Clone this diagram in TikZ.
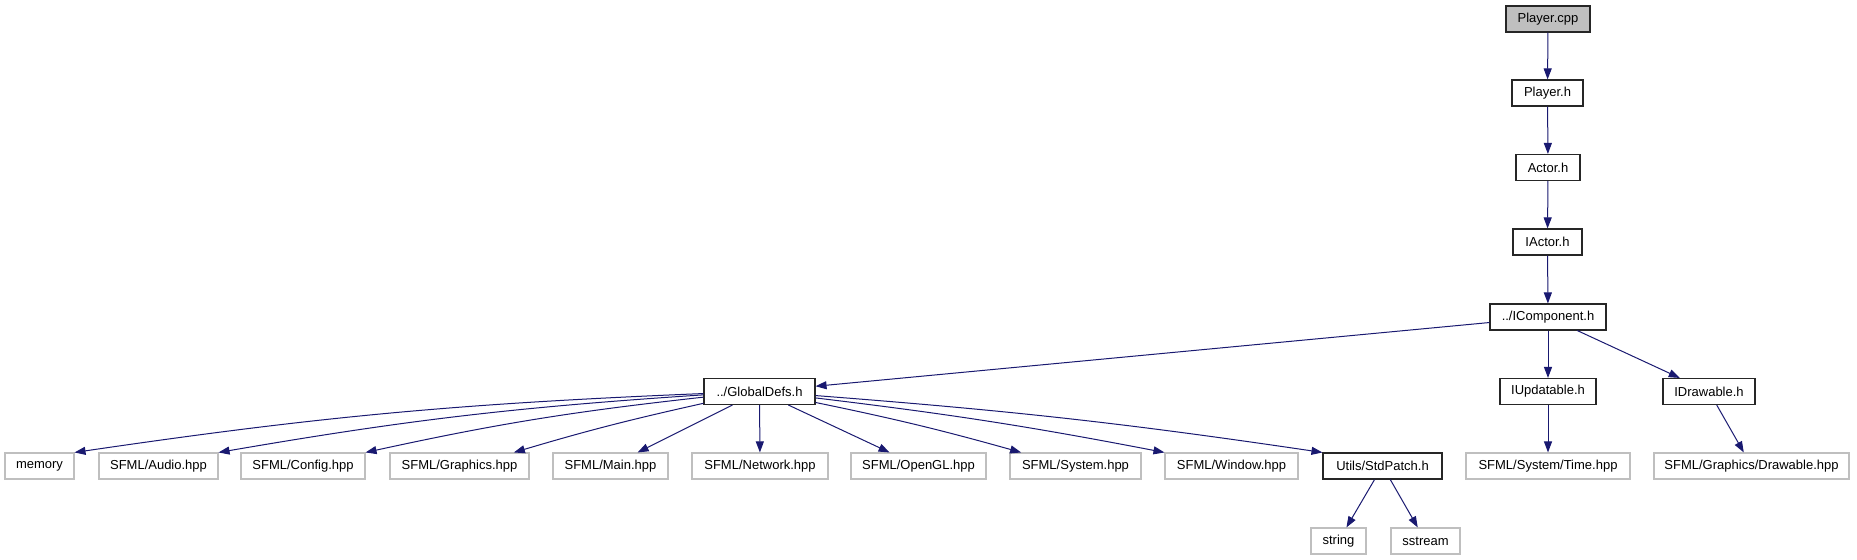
\documentclass[tikz,border=0pt]{standalone}
\usepackage{fontspec}
\setmainfont{Liberation Sans}
\usetikzlibrary{arrows.meta}
\definecolor{edgeblue}{HTML}{191970}
\definecolor{grey75}{HTML}{BFBFBF}
\begin{document}
\begin{tikzpicture}[x=1bp,y=-1bp,
  base/.style={draw, line width=1.1bp, minimum height=26bp, inner sep=0pt, font=\fontsize{13bp}{15bp}\selectfont, text=black},
  filebox/.style={base, draw=black!85},
  rootbox/.style={base, draw=black!85, fill=grey75},
  extbox/.style={base, draw=grey75},
  dep/.style={draw=edgeblue, line width=1bp, -{Triangle[length=11bp,width=8bp]}, fill=none}
]
\useasboundingbox (0,0) rectangle (1857,560);
% top chain
\node[rootbox, minimum width=84bp] (pcpp) at (1548,19) {Player.cpp};
\node[filebox, minimum width=71bp] (ph) at (1547.5,93) {Player.h};
\node[filebox, minimum width=64bp] (ah) at (1548,167.5) {Actor.h};
\node[filebox, minimum width=69bp] (iah) at (1547.5,242) {IActor.h};
\node[filebox, minimum width=116bp] (ic) at (1548,317) {../IComponent.h};
% middle row
\node[filebox, minimum width=111bp] (gd) at (759.5,391.5) {../GlobalDefs.h};
\node[filebox, minimum width=96bp] (iu) at (1548,391.5) {IUpdatable.h};
\node[filebox, minimum width=92bp] (idr) at (1709,391.5) {IDrawable.h};
% bottom row
\node[extbox, minimum width=69bp] (mem) at (39.5,466) {memory};
\node[extbox, minimum width=119bp] (aud) at (158.5,466) {SFML/Audio.hpp};
\node[extbox, minimum width=124bp] (cfg) at (303,466) {SFML/Config.hpp};
\node[extbox, minimum width=139bp] (gfx) at (459.5,466) {SFML/Graphics.hpp};
\node[extbox, minimum width=115bp] (mainh) at (610.5,466) {SFML/Main.hpp};
\node[extbox, minimum width=136bp] (net) at (760,466) {SFML/Network.hpp};
\node[extbox, minimum width=135bp] (ogl) at (918.5,466) {SFML/OpenGL.hpp};
\node[extbox, minimum width=131bp] (sys) at (1075.5,466) {SFML/System.hpp};
\node[extbox, minimum width=133bp] (win) at (1231.5,466) {SFML/Window.hpp};
\node[filebox, minimum width=119bp] (sp) at (1382.5,466) {Utils/StdPatch.h};
\node[extbox, minimum width=164bp] (time) at (1548,466) {SFML/System/Time.hpp};
\node[extbox, minimum width=195bp] (drw) at (1751.5,466) {SFML/Graphics/Drawable.hpp};
\node[extbox, minimum width=55bp] (str) at (1338.5,541) {string};
\node[extbox, minimum width=69bp] (sst) at (1425.5,541) {sstream};
% edges
\draw[dep] (pcpp) -- (ph);
\draw[dep] (ph) -- (ah);
\draw[dep] (ah) -- (iah);
\draw[dep] (iah) -- (ic);
\draw[dep] (ic) -- (gd);
\draw[dep] (ic) -- (iu);
\draw[dep] (ic) -- (idr);
\draw[dep] (iu) -- (time);
\draw[dep] (idr) -- (drw);
\draw[dep] (gd) to[bend right=3] (mem.north east);
\draw[dep] (gd) to[bend right=3] (aud.north east);
\draw[dep] (gd) to[bend right=3] (cfg.north east);
\draw[dep] (gd) to[bend right=2] (gfx.14.6);
\draw[dep] (gd) -- (mainh);
\draw[dep] (gd) -- (net);
\draw[dep] (gd) -- (ogl);
\draw[dep] (gd) to[bend left=2] (sys.166.3);
\draw[dep] (gd) to[bend left=2] (win.north west);
\draw[dep] (gd) to[bend left=2] (sp.north west);
\draw[dep] (sp) -- (str);
\draw[dep] (sp) -- (sst);
\end{tikzpicture}
\end{document}
